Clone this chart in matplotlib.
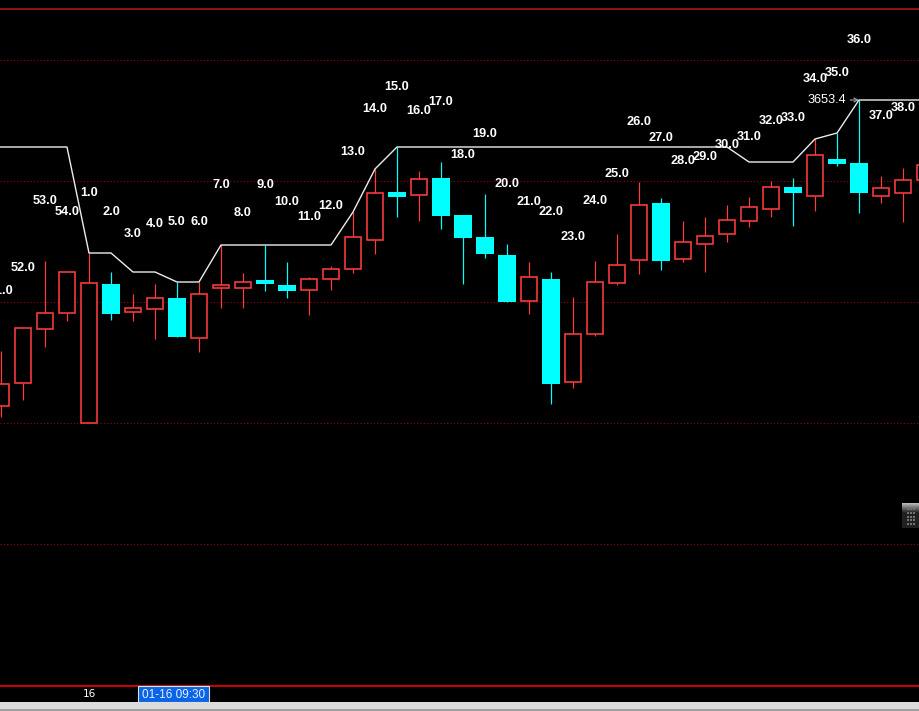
import numpy as np
import matplotlib
matplotlib.use("Agg")
import matplotlib.pyplot as plt
import matplotlib.transforms as mtransforms
from matplotlib.patches import Rectangle

# ---- data (1-minute bars, index -1 .. 41) ----
bar_idx = list(range(-1, 42))
opens = [3622.8, 3625.1, 3630.5, 3632.1, 3621.1, 3635.0, 3632.2, 3632.5, 3633.6, 3629.6,
         3634.6, 3634.6, 3635.4, 3634.9, 3634.4, 3635.5, 3636.5, 3639.4, 3644.2, 3643.9,
         3645.6, 3641.9, 3639.7, 3637.9, 3633.3, 3635.5, 3625.2, 3630.0, 3635.1, 3637.4,
         3643.1, 3637.5, 3639.0, 3640.0, 3641.3, 3642.5, 3644.7, 3643.8, 3647.5, 3647.1,
         3643.8, 3644.1, 3645.4]
highs = [3628.3, 3630.6, 3637.3, 3636.2, 3638.1, 3636.2, 3634.0, 3635.0, 3635.2, 3635.2,
         3638.9, 3636.1, 3638.9, 3637.2, 3635.7, 3636.8, 3642.2, 3646.5, 3648.7, 3646.3,
         3647.2, 3641.9, 3644.0, 3639.0, 3637.2, 3636.2, 3633.7, 3637.3, 3640.0, 3645.2,
         3643.6, 3641.3, 3641.7, 3642.9, 3643.7, 3645.3, 3645.6, 3649.5, 3650.1, 3653.4,
         3645.8, 3646.6, 3648.1]
lows = [3621.7, 3623.4, 3628.7, 3631.3, 3621.1, 3631.4, 3631.3, 3629.5, 3629.7, 3628.2,
        3632.6, 3632.6, 3634.3, 3633.6, 3631.9, 3634.4, 3636.1, 3638.0, 3641.7, 3641.3,
        3640.5, 3635.0, 3637.6, 3633.2, 3632.0, 3623.0, 3624.6, 3629.8, 3634.9, 3636.0,
        3636.4, 3637.2, 3636.2, 3639.2, 3640.7, 3641.7, 3640.8, 3642.3, 3646.8, 3642.1,
        3643.1, 3641.2, 3644.9]
closes = [3625.0, 3630.6, 3632.1, 3636.2, 3635.1, 3632.0, 3632.6, 3633.6, 3629.7, 3634.0,
          3634.9, 3635.2, 3635.0, 3634.3, 3635.5, 3636.5, 3639.7, 3644.1, 3643.7, 3645.5,
          3641.8, 3639.6, 3638.0, 3633.2, 3635.7, 3625.0, 3630.0, 3635.2, 3636.9, 3642.9,
          3637.3, 3639.2, 3639.8, 3641.4, 3642.7, 3644.7, 3644.1, 3647.9, 3647.0, 3644.1,
          3644.6, 3645.4, 3646.9]
# bar counter shown above each bar
bar_labels = [51.0, 52.0, 53.0, 54.0] + [float(n) for n in range(1, 40)]
# white high line
line_vals = [3648.7, 3648.7, 3648.7, 3648.7, 3638.1, 3638.1, 3636.2, 3636.2, 3635.2, 3635.2,
             3638.9, 3638.9, 3638.9, 3638.9, 3638.9, 3638.9, 3642.2, 3646.5, 3648.7, 3648.7,
             3648.7, 3648.7, 3648.7, 3648.7, 3648.7, 3648.7, 3648.7, 3648.7, 3648.7, 3648.7,
             3648.7, 3648.7, 3648.7, 3648.7, 3647.2, 3647.2, 3647.2, 3649.5, 3650.1, 3653.4,
             3653.4, 3653.4, 3653.4]
grid_prices = [3657.4, 3645.3, 3633.2, 3621.1, 3609.0]
day_label = "16"
day_label_bar = 3
cursor_text = "01-16 09:30"

UP = "#ff3b3b"
DOWN = "#00ffff"
PX = 0.72  # one pixel in points at dpi 100

fig = plt.figure(figsize=(9.19, 7.11), dpi=100, facecolor="black")
ax = fig.add_axes([0, 25 / 711, 1, 677 / 711])
ax.set_facecolor("black")
xmin, xmax = -1.045, 40.727
ax.set_xlim(xmin, xmax)
ax.set_ylim(3594.8, 3662.5)

ax.set_xticks([])
ax.set_yticks(grid_prices)
ax.tick_params(length=0, labelleft=False, labelbottom=False)
ax.grid(axis="y", color="#a00000", linestyle=(0, (1, 2)), linewidth=0.8)
for s in ["left", "right"]:
    ax.spines[s].set_visible(False)
ax.spines["top"].set_color("#a81818")
ax.spines["top"].set_linewidth(1.2)
ax.spines["bottom"].set_color("#d00000")
ax.spines["bottom"].set_linewidth(1.4)

# candles
for x, o, h, l, c in zip(bar_idx, opens, highs, lows, closes):
    if c >= o:
        ax.vlines(x, c, h, color=UP, lw=PX * 1.2, zorder=2)
        ax.vlines(x, l, o, color=UP, lw=PX * 1.2, zorder=2)
        ax.add_patch(Rectangle((x - 0.385, o), 0.77, c - o, facecolor="black",
                               edgecolor=UP, lw=PX * 1.6, zorder=3))
    else:
        ax.vlines(x, l, h, color=DOWN, lw=PX * 1.2, zorder=2)
        ax.add_patch(Rectangle((x - 0.41, c), 0.82, o - c, facecolor=DOWN,
                               edgecolor="none", zorder=3))

# white line, extended to the left edge
lx = [xmin] + bar_idx
ly = [line_vals[0]] + line_vals
ax.plot(lx, ly, color="#ececec", lw=1.0, zorder=4)

# counters above the bars
for x, h, lab in zip(bar_idx, highs, bar_labels):
    ax.annotate(f"{lab:.1f}", xy=(x, h), xytext=(0, 60 * PX), textcoords="offset points",
                ha="center", va="center", fontsize=9.2, fontweight="bold", color="white",
                family="Liberation Sans", zorder=5)

# max price marker
imax = int(np.argmax(highs))
ax.annotate(f"{highs[imax]:.1f}", xy=(bar_idx[imax], highs[imax]), xytext=(-13 * PX, 0),
            textcoords="offset points", ha="right", va="center", fontsize=9.2,
            color="white", family="Liberation Sans", zorder=5,
            arrowprops=dict(arrowstyle="->", color="#a8a8a8", lw=0.8,
                            shrinkA=1, shrinkB=0, mutation_scale=7))

# bottom time axis strip
trans = mtransforms.blended_transform_factory(ax.transData, fig.transFigure)
fig.text(day_label_bar, 1 - 694 / 711, day_label, transform=trans, ha="center", va="center",
         fontsize=7.5, color="white", family="DejaVu Sans")
fig.add_artist(Rectangle((138 / 919, 1 - 702 / 711), 71 / 919, 16 / 711,
                         transform=fig.transFigure, facecolor="#0a64e6",
                         edgecolor="#e0e0e0", lw=0.8))
fig.text(173.5 / 919, 1 - 694.5 / 711, cursor_text, ha="center", va="center",
         fontsize=8.5, color="#e8f0ff", family="Liberation Sans")
fig.add_artist(Rectangle((0, 2 / 711), 1, 7 / 711, transform=fig.transFigure,
                         facecolor="#dcdcdc", edgecolor="none"))
fig.add_artist(Rectangle((0, 0), 1, 2 / 711, transform=fig.transFigure,
                         facecolor="#a0a0a0", edgecolor="none"))

# little scroll grip at the right
grip = np.full((25, 17, 3), 0.13)
for r in range(9):
    grip[r, :, :] = 0.72 - r * 0.065
for ry in [5, 9, 13, 16, 20]:
    for cx in [5, 8, 11]:
        grip[ry:ry + 2, cx:cx + 2, :] = 0.45
wax = fig.add_axes([902 / 919, 1 - 528 / 711, 17 / 919, 25 / 711])
wax.imshow(grip, aspect="auto", interpolation="nearest")
wax.axis("off")

fig.savefig("out.png", dpi=100, facecolor="black")
